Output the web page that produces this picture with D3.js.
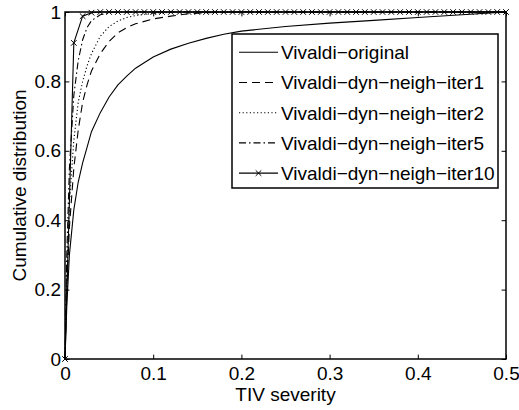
<!DOCTYPE html>
<html>
<head>
<meta charset="utf-8">
<script src="https://cdn.jsdelivr.net/npm/d3@7/dist/d3.min.js"></script>
<style>
  html, body { margin: 0; padding: 0; background: #fff; }
  svg { display: block; }
  text { font-family: "Liberation Sans", Arial, Helvetica, sans-serif; fill: #000; }
</style>
</head>
<body>
<svg id="chart" width="519" height="410"></svg>
<script>
// TIV severity grid shared by the smooth CDF curves
const xGrid = [0, 0.002, 0.005, 0.01, 0.015, 0.02, 0.025, 0.03, 0.04, 0.05, 0.06, 0.07, 0.08,
  0.1, 0.12, 0.14, 0.16, 0.18, 0.2, 0.25, 0.3, 0.35, 0.4, 0.45, 0.5];

const cdfOriginal = [0, 0.15, 0.30, 0.43, 0.51, 0.565, 0.61, 0.655, 0.71, 0.755, 0.79, 0.815, 0.838,
  0.87, 0.893, 0.91, 0.924, 0.936, 0.945, 0.958, 0.968, 0.976, 0.984, 0.992, 1.0];
const cdfIter1 = [0, 0.2, 0.38, 0.55, 0.66, 0.74, 0.79, 0.83, 0.88, 0.915, 0.94, 0.955, 0.966,
  0.98, 0.988, 0.995, 0.998, 0.999, 1, 1, 1, 1, 1, 1, 1];
const cdfIter2 = [0, 0.25, 0.45, 0.63, 0.74, 0.8, 0.845, 0.88, 0.93, 0.958, 0.974, 0.984, 0.99,
  0.996, 0.999, 1, 1, 1, 1, 1, 1, 1, 1, 1, 1];
const cdfIter5 = [0, 0.3, 0.55, 0.76, 0.86, 0.92, 0.955, 0.975, 0.992, 0.998, 1, 1, 1,
  1, 1, 1, 1, 1, 1, 1, 1, 1, 1, 1, 1];

// iter10 curve is sampled every 0.01 (each sample drawn with a marker)
const xGrid10 = [0, 0.01, 0.02, 0.03, 0.04, 0.05, 0.06, 0.07, 0.08, 0.09,
  0.1, 0.11, 0.12, 0.13, 0.14, 0.15, 0.16, 0.17, 0.18, 0.19,
  0.2, 0.21, 0.22, 0.23, 0.24, 0.25, 0.26, 0.27, 0.28, 0.29,
  0.3, 0.31, 0.32, 0.33, 0.34, 0.35, 0.36, 0.37, 0.38, 0.39,
  0.4, 0.41, 0.42, 0.43, 0.44, 0.45, 0.46, 0.47, 0.48, 0.49, 0.5];
const cdfIter10 = [0, 0.911, 0.988, 0.998, 1, 1, 1, 1, 1, 1,
  1, 1, 1, 1, 1, 1, 1, 1, 1, 1,
  1, 1, 1, 1, 1, 1, 1, 1, 1, 1,
  1, 1, 1, 1, 1, 1, 1, 1, 1, 1,
  1, 1, 1, 1, 1, 1, 1, 1, 1, 1, 1];

const seriesNames = ["Vivaldi\u2212original", "Vivaldi\u2212dyn\u2212neigh\u2212iter1",
  "Vivaldi\u2212dyn\u2212neigh\u2212iter2", "Vivaldi\u2212dyn\u2212neigh\u2212iter5",
  "Vivaldi\u2212dyn\u2212neigh\u2212iter10"];

const xTicks = [0, 0.1, 0.2, 0.3, 0.4, 0.5];
const xTickLabels = ["0", "0.1", "0.2", "0.3", "0.4", "0.5"];
const yTicks = [0, 0.2, 0.4, 0.6, 0.8, 1];
const yTickLabels = ["0", "0.2", "0.4", "0.6", "0.8", "1"];

const svg = d3.select("#chart");
const L = 65, R = 506, T = 12, B = 359;
const FONT = 19;
const x = d3.scaleLinear().domain([0, 0.5]).range([L, R]);
const y = d3.scaleLinear().domain([0, 1]).range([B, T]);

svg.append("rect").attr("width", 519).attr("height", 410).attr("fill", "#fff");

const styles = [
  { dash: null },
  { dash: "8,5" },
  { dash: "1.2,2.4" },
  { dash: "7,3,1.5,3" },
  { dash: null, marker: true }
];

const seriesData = [
  xGrid.map((v, i) => [v, cdfOriginal[i]]),
  xGrid.map((v, i) => [v, cdfIter1[i]]),
  xGrid.map((v, i) => [v, cdfIter2[i]]),
  xGrid.map((v, i) => [v, cdfIter5[i]]),
  xGrid10.map((v, i) => [v, cdfIter10[i]])
];

const line = d3.line().x(d => x(d[0])).y(d => y(d[1]));

function crossPath(cx, cy, s) {
  return `M${cx - s},${cy - s}L${cx + s},${cy + s}M${cx - s},${cy + s}L${cx + s},${cy - s}`;
}

const curves = svg.append("g");
seriesData.forEach((data, i) => {
  const st = styles[i];
  curves.append("path")
    .attr("d", line(data))
    .attr("fill", "none")
    .attr("stroke", "#000")
    .attr("stroke-width", 1.1)
    .attr("stroke-dasharray", st.dash);
  if (st.marker) {
    curves.append("path")
      .attr("d", data.map(d => crossPath(x(d[0]), y(d[1]), 2.8)).join(""))
      .attr("fill", "none")
      .attr("stroke", "#000")
      .attr("stroke-width", 1);
  }
});

// Axes: ticks point inward on all four sides
const tick = 4.4;
const axisFont = g => g.selectAll("text").attr("font-size", FONT).attr("font-family", null).attr("fill", "#000");
const axisClean = g => {
  g.select(".domain").remove();
  g.selectAll("line").attr("stroke", "#000").attr("stroke-width", 1);
};

svg.append("g").attr("transform", `translate(0,${B})`)
  .call(d3.axisBottom(x).tickValues(xTicks).tickFormat((d, i) => xTickLabels[i])
    .tickSizeInner(-tick).tickSizeOuter(0).tickPadding(8))
  .call(axisClean).call(axisFont)
  .attr("font-family", null);

svg.append("g").attr("transform", `translate(${L},0)`)
  .call(d3.axisLeft(y).tickValues(yTicks).tickFormat((d, i) => yTickLabels[i])
    .tickSizeInner(-tick).tickSizeOuter(0).tickPadding(4))
  .call(axisClean).call(axisFont)
  .attr("font-family", null);

svg.append("g").attr("transform", `translate(0,${T})`)
  .call(d3.axisTop(x).tickValues(xTicks).tickFormat("").tickSizeInner(-tick).tickSizeOuter(0))
  .call(axisClean);

svg.append("g").attr("transform", `translate(${R},0)`)
  .call(d3.axisRight(y).tickValues(yTicks).tickFormat("").tickSizeInner(-tick).tickSizeOuter(0))
  .call(axisClean);

// plot box
svg.append("rect")
  .attr("x", L).attr("y", T).attr("width", R - L).attr("height", B - T)
  .attr("fill", "none").attr("stroke", "#000").attr("stroke-width", 1.5);

// axis titles
svg.append("text")
  .attr("x", (L + R) / 2).attr("y", 401)
  .attr("text-anchor", "middle").attr("font-size", FONT)
  .text("TIV severity");

svg.append("text")
  .attr("transform", `translate(25.5,${(T + B) / 2}) rotate(-90)`)
  .attr("text-anchor", "middle").attr("font-size", FONT)
  .text("Cumulative distribution");

// legend
const lg = svg.append("g");
lg.append("rect")
  .attr("x", 232).attr("y", 34).attr("width", 266).attr("height", 154)
  .attr("fill", "#fff").attr("stroke", "#000").attr("stroke-width", 1.5);

seriesNames.forEach((name, i) => {
  const cy = 52.3 + i * 30.2;
  const st = styles[i];
  lg.append("line")
    .attr("x1", 239).attr("x2", 278).attr("y1", cy).attr("y2", cy)
    .attr("stroke", "#000").attr("stroke-width", 1.1)
    .attr("stroke-dasharray", st.dash);
  if (st.marker) {
    lg.append("path").attr("d", crossPath(258.5, cy, 2.8))
      .attr("fill", "none").attr("stroke", "#000").attr("stroke-width", 1);
  }
  lg.append("text")
    .attr("x", 281).attr("y", cy + 6.8)
    .attr("font-size", FONT)
    .text(name);
});
</script>
</body>
</html>
